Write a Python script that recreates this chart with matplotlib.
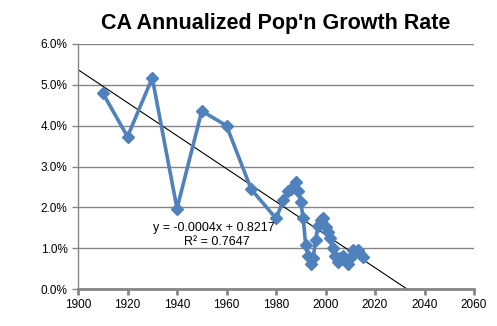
import numpy as np
import matplotlib
matplotlib.use("Agg")
import matplotlib.pyplot as plt
from matplotlib.ticker import PercentFormatter

plt.rcParams['font.family'] = ['Liberation Sans', 'DejaVu Sans']

# California annualized population growth rate (%), by year
years = [1910, 1920, 1930, 1940, 1950, 1960, 1970, 1980,
         1983, 1985, 1986, 1987, 1988, 1989, 1990, 1991,
         1992, 1993, 1994, 1995, 1996, 1997, 1998, 1999,
         2000, 2001, 2002, 2003, 2004, 2005, 2006, 2007,
         2008, 2009, 2010, 2011, 2012, 2013, 2014, 2015]
growth = [4.80, 3.73, 5.17, 1.97, 4.36, 4.00, 2.44, 1.73,
          2.17, 2.40, 2.45, 2.50, 2.62, 2.40, 2.12, 1.73,
          1.07, 0.80, 0.62, 0.75, 1.20, 1.55, 1.70, 1.75,
          1.52, 1.40, 1.25, 1.00, 0.80, 0.66, 0.75, 0.82,
          0.70, 0.62, 0.75, 0.95, 0.90, 0.95, 0.85, 0.78]

# linear trendline (fraction per year), label shows rounded coefficients
trend_slope = -0.0004042
trend_intercept = 0.8217
r_squared = 0.7647

blue = '#4F81BD'
grid_gray = '#868686'

fig = plt.figure(figsize=(4.97, 3.26), dpi=100)
ax = fig.add_axes([78/497, 1 - 289/326, 396/497, 245/326])

ax.plot(years, growth, color=blue, lw=2.6, marker='D', ms=6.5,
        mec=blue, mfc=blue, zorder=3)

tx = np.array([1900, 2060])
ty = (trend_slope * tx + trend_intercept) * 100
ax.plot(tx, ty, color='black', lw=0.8, zorder=2)

ax.set_xlim(1900, 2060)
ax.set_ylim(0, 6)
ax.set_xticks(range(1900, 2061, 20))
ax.set_yticks(np.arange(0, 6.01, 1))
ax.yaxis.set_major_formatter(PercentFormatter(decimals=1))
ax.grid(axis='y', color=grid_gray, lw=1)
ax.set_axisbelow(True)

for s in ['top', 'right']:
    ax.spines[s].set_visible(False)
ax.spines['left'].set_color(grid_gray)
ax.spines['left'].set_linewidth(1)
ax.spines['bottom'].set_color(grid_gray)
ax.spines['bottom'].set_linewidth(2)
ax.tick_params(axis='both', colors=grid_gray, labelcolor='black',
               labelsize=8.5, length=4, width=1)
ax.tick_params(axis='x', width=2, length=4, pad=3)

ax.set_title("CA Annualized Pop'n Growth Rate", fontsize=15.5,
             fontweight='bold', pad=11)

ax.text(1955, 1.49, f"y = {trend_slope:.4f}x + {trend_intercept:.4f}",
        ha='center', va='center', fontsize=9)
ax.text(1956, 1.14, f"R\u00b2 = {r_squared:.4f}",
        ha='center', va='center', fontsize=9)

fig.savefig('out.png', dpi=100)
